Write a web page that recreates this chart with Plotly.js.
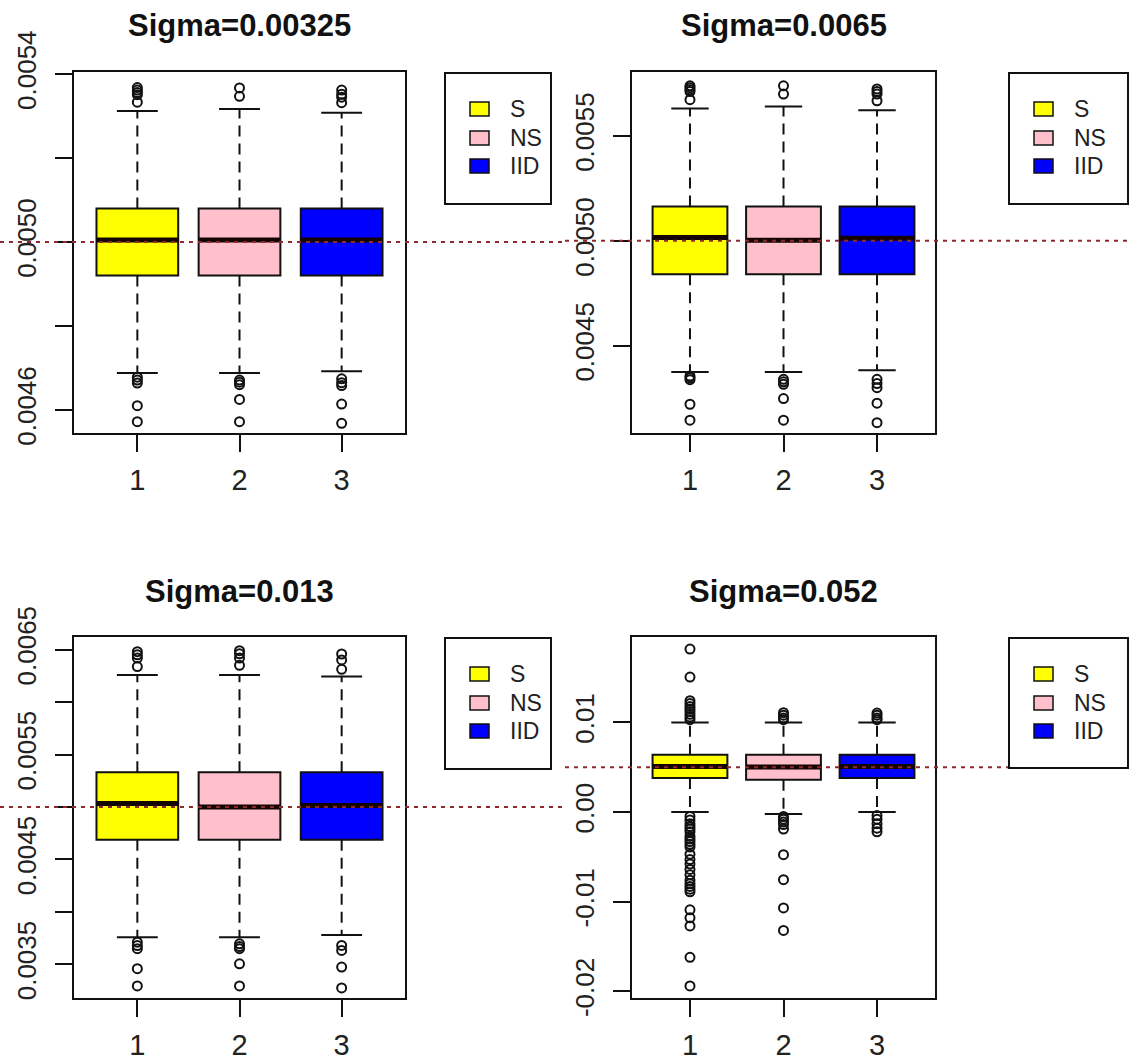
<!DOCTYPE html>
<html>
<head>
<meta charset="utf-8">
<script src="https://cdn.plot.ly/plotly-3.0.1.min.js"></script>
<style>
  html, body { margin: 0; padding: 0; background: #ffffff; }
  #chart { width: 1130px; height: 1063px; }
</style>
</head>
<body>
<div id="chart"></div>
<script>
// Estimator groups and their box colours
const groups = ['S', 'NS', 'IID'];
const groupPos = [1, 2, 3];
const fills = ['#FFFF00', '#FFC0CB', '#0000FF'];
const trueValue = 0.005;

const titles = ['Sigma=0.00325', 'Sigma=0.0065', 'Sigma=0.013', 'Sigma=0.052'];

// Sigma = 0.00325
const q1A  = [0.004920, 0.004920, 0.004920];
const medA = [0.005005, 0.005005, 0.005005];
const q3A  = [0.005080, 0.005080, 0.005080];
const loA  = [0.004688, 0.004688, 0.004692];
const hiA  = [0.005312, 0.005317, 0.005308];
const outA_S   = [0.005368, 0.005362, 0.005356, 0.005351, 0.005333, 0.004678, 0.004671, 0.004664, 0.004610, 0.004572];
const outA_NS  = [0.005367, 0.005347, 0.004671, 0.004666, 0.004660, 0.004625, 0.004572];
const outA_IID = [0.005362, 0.005352, 0.005345, 0.005332, 0.004674, 0.004665, 0.004658, 0.004614, 0.004568];
const yTicksA  = [0.0046, 0.0048, 0.0050, 0.0052, 0.0054];
const yLabelsA = ['0.0046', '', '0.0050', '', '0.0054'];

// Sigma = 0.0065
const q1B  = [0.004841, 0.004841, 0.004841];
const medB = [0.005016, 0.005003, 0.005013];
const q3B  = [0.005164, 0.005164, 0.005164];
const loB  = [0.004375, 0.004375, 0.004383];
const hiB  = [0.005631, 0.005641, 0.005623];
const outB_S   = [0.005739, 0.005730, 0.005720, 0.005712, 0.005673, 0.004356, 0.004347, 0.004338, 0.004221, 0.004145];
const outB_NS  = [0.005739, 0.005700, 0.004340, 0.004328, 0.004316, 0.004248, 0.004145];
const outB_IID = [0.005724, 0.005712, 0.005700, 0.005668, 0.004340, 0.004320, 0.004300, 0.004226, 0.004133];
const yTicksB  = [0.0045, 0.0050, 0.0055];
const yLabelsB = ['0.0045', '0.0050', '0.0055'];

// Sigma = 0.013
const q1C  = [0.004687, 0.004687, 0.004687];
const medC = [0.005034, 0.005000, 0.005015];
const q3C  = [0.005332, 0.005332, 0.005332];
const loC  = [0.003760, 0.003760, 0.003781];
const hiC  = [0.006258, 0.006258, 0.006243];
const outC_S   = [0.006480, 0.006450, 0.006420, 0.006338, 0.003712, 0.003680, 0.003650, 0.003459, 0.003295];
const outC_NS  = [0.006490, 0.006460, 0.006420, 0.006350, 0.003696, 0.003670, 0.003650, 0.003506, 0.003295];
const outC_IID = [0.006458, 0.006401, 0.006312, 0.003681, 0.003633, 0.003475, 0.003276];
const yTicksC  = [0.0035, 0.0040, 0.0045, 0.0050, 0.0055, 0.0060, 0.0065];
const yLabelsC = ['0.0035', '', '0.0045', '', '0.0055', '', '0.0065'];

// Sigma = 0.052
const q1D  = [0.00379, 0.00360, 0.00379];
const medD = [0.00508, 0.00502, 0.00508];
const q3D  = [0.00639, 0.00639, 0.00639];
const loD  = [0.0000, -0.00022, 0.0000];
const hiD  = [0.00999, 0.00999, 0.00999];
const outD_S   = [0.01817, 0.01505, 0.01241, 0.01210, 0.01177, 0.01150, 0.01120, 0.01090, 0.01060, 0.01030,
                  -0.0005, -0.0009, -0.0013, -0.0016, -0.0019, -0.0022, -0.0027, -0.0030, -0.0033, -0.0036,
                  -0.0039, -0.0047, -0.0053, -0.0058, -0.0064, -0.0070, -0.0076, -0.0080, -0.0083, -0.0086,
                  -0.0089, -0.0109, -0.0118, -0.0127, -0.0162, -0.0194];
const outD_NS  = [0.01108, 0.01080, 0.01050, 0.01030, -0.0005, -0.0008, -0.0011, -0.0014, -0.0019,
                  -0.00476, -0.00755, -0.0107, -0.0132];
const outD_IID = [0.01104, 0.01080, 0.01050, 0.01030, -0.0004, -0.0008, -0.0013, -0.0018, -0.0022];
const yTicksD  = [-0.02, -0.01, 0.00, 0.01];
const yLabelsD = ['-0.02', '-0.01', '0.00', '0.01'];

const xTicks = [1, 2, 3];
const xLabels = ['1', '2', '3'];

// ---- page geometry (pixels) ----
const W = 1130, H = 1063;
const FONT = 'Liberation Sans, Arial, Helvetica, sans-serif';
const panels = [
  { box: {l: 74,  r: 405, t: 72,  b: 433}, yr: [0.004545, 0.005405], fig: [0, 0.5], titleY: 26,
    q1: q1A, med: medA, q3: q3A, lo: loA, hi: hiA, outs: [outA_S, outA_NS, outA_IID], yt: yTicksA, yl: yLabelsA,
    legend: {l: 445, r: 551, t: 73, b: 204} },
  { box: {l: 632, r: 935, t: 72,  b: 433}, yr: [0.004084, 0.005805], fig: [0.5, 1], titleY: 26,
    q1: q1B, med: medB, q3: q3B, lo: loB, hi: hiB, outs: [outB_S, outB_NS, outB_IID], yt: yTicksB, yl: yLabelsB,
    legend: {l: 1009, r: 1128, t: 73, b: 204} },
  { box: {l: 74,  r: 405, t: 637, b: 998}, yr: [0.00318, 0.00662], fig: [0, 0.5], titleY: 591,
    q1: q1C, med: medC, q3: q3C, lo: loC, hi: hiC, outs: [outC_S, outC_NS, outC_IID], yt: yTicksC, yl: yLabelsC,
    legend: {l: 445, r: 551, t: 638, b: 769} },
  { box: {l: 632, r: 935, t: 637, b: 998}, yr: [-0.02074, 0.01952], fig: [0.5, 1], titleY: 591,
    q1: q1D, med: medD, q3: q3D, lo: loD, hi: hiD, outs: [outD_S, outD_NS, outD_IID], yt: yTicksD, yl: yLabelsD,
    legend: {l: 1009, r: 1128, t: 638, b: 768} }
];

const BOX_W = 0.8, STAPLE_W = 0.4;
const px = v => v / W;
const py = v => 1 - v / H;

const traces = [];
const layout = {
  width: W, height: H,
  margin: {l: 0, r: 0, t: 0, b: 0},
  paper_bgcolor: '#ffffff', plot_bgcolor: '#ffffff',
  showlegend: false,
  font: {family: FONT, color: '#222'},
  shapes: [], annotations: []
};

panels.forEach((p, i) => {
  const n = i + 1;
  const xa = 'x' + (n === 1 ? '' : n), ya = 'y' + (n === 1 ? '' : n);
  const xKey = 'xaxis' + (n === 1 ? '' : n), yKey = 'yaxis' + (n === 1 ? '' : n);

  const axisCommon = {
    showgrid: false, zeroline: false, showline: true, mirror: true,
    linecolor: '#111', linewidth: 2,
    ticks: 'outside', ticklen: 17, tickwidth: 2, tickcolor: '#111',
    fixedrange: true
  };
  layout[xKey] = Object.assign({}, axisCommon, {
    domain: [px(p.box.l), px(p.box.r)], range: [0.38, 3.62], anchor: ya,
    tickmode: 'array', tickvals: xTicks, ticktext: xLabels, ticklabelstandoff: 3,
    tickfont: {family: FONT, size: 29, color: '#222'}
  });
  layout[yKey] = Object.assign({}, axisCommon, {
    domain: [py(p.box.b), py(p.box.t)], range: p.yr, anchor: xa,
    tickmode: 'array', tickvals: p.yt, ticktext: p.yl, tickangle: -90, ticklabelstandoff: 9,
    tickfont: {family: FONT, size: 26, color: '#222'}
  });

  groupPos.forEach((g, k) => {
    // box body (whiskers are drawn separately with dashed lines)
    traces.push({
      type: 'box', xaxis: xa, yaxis: ya, name: groups[k],
      x: [g], q1: [p.q1[k]], median: [p.med[k]], q3: [p.q3[k]],
      lowerfence: [p.q1[k]], upperfence: [p.q3[k]],
      width: BOX_W, whiskerwidth: 0, boxpoints: false,
      fillcolor: fills[k], line: {color: '#111', width: 2},
      hoverinfo: 'skip'
    });
    // dashed whiskers
    traces.push({
      type: 'scatter', mode: 'lines', xaxis: xa, yaxis: ya, hoverinfo: 'skip',
      x: [g, g, null, g, g], y: [p.q3[k], p.hi[k], null, p.q1[k], p.lo[k]],
      line: {color: '#111', width: 2, dash: '11px,7px'}
    });
    // staples
    traces.push({
      type: 'scatter', mode: 'lines', xaxis: xa, yaxis: ya, hoverinfo: 'skip',
      x: [g - STAPLE_W / 2, g + STAPLE_W / 2, null, g - STAPLE_W / 2, g + STAPLE_W / 2],
      y: [p.hi[k], p.hi[k], null, p.lo[k], p.lo[k]],
      line: {color: '#111', width: 2}
    });
    // thick median bar
    traces.push({
      type: 'scatter', mode: 'lines', xaxis: xa, yaxis: ya, hoverinfo: 'skip',
      x: [g - BOX_W / 2, g + BOX_W / 2], y: [p.med[k], p.med[k]],
      line: {color: '#140404', width: 5}
    });
    // outliers
    traces.push({
      type: 'scatter', mode: 'markers', xaxis: xa, yaxis: ya, name: groups[k],
      x: p.outs[k].map(() => g), y: p.outs[k],
      marker: {symbol: 'circle-open', size: 9, color: '#111', line: {width: 2}}
    });
  });

  // reference line at the true value, across the whole figure cell
  layout.shapes.push({
    type: 'line', layer: 'above', xref: 'paper', yref: ya,
    x0: p.fig[0], x1: p.fig[1], y0: trueValue, y1: trueValue,
    line: {color: '#8E2A2A', width: 2, dash: '4px,5px'}
  });

  // panel title
  layout.annotations.push({
    xref: 'paper', yref: 'paper', x: px((p.box.l + p.box.r) / 2), y: py(p.titleY),
    xanchor: 'center', yanchor: 'middle', showarrow: false, text: titles[i],
    font: {family: FONT, size: 31, color: '#111', weight: 'bold'}
  });

  // legend: frame, colour keys and labels
  const L = p.legend;
  layout.shapes.push({
    type: 'rect', layer: 'above', xref: 'paper', yref: 'paper',
    x0: px(L.l), x1: px(L.r), y0: py(L.b), y1: py(L.t),
    fillcolor: '#ffffff', line: {color: '#111', width: 2}
  });
  const rowOff = [36, 65, 93];
  groups.forEach((name, k) => {
    const cy = L.t + rowOff[k];
    layout.shapes.push({
      type: 'rect', layer: 'above', xref: 'paper', yref: 'paper',
      x0: px(L.l + 25), x1: px(L.l + 44), y0: py(cy + 7), y1: py(cy - 7),
      fillcolor: fills[k], line: {color: '#111', width: 1.5}
    });
    layout.annotations.push({
      xref: 'paper', yref: 'paper', x: px(L.l + 63), y: py(cy),
      xanchor: 'left', yanchor: 'middle', showarrow: false, text: name,
      font: {family: FONT, size: 23, color: '#222'}
    });
  });
});

Plotly.newPlot('chart', traces, layout, {displayModeBar: false, staticPlot: true});
</script>
</body>
</html>
